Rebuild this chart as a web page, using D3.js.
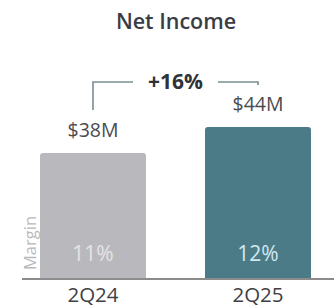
<!DOCTYPE html>
<html><head><meta charset="utf-8">
<script src="https://cdn.jsdelivr.net/npm/d3@7"></script>
<style>html,body{margin:0;padding:0;background:#fff}svg{display:block}</style>
</head><body>
<svg id="c" width="335" height="308"></svg>
<script>
const categories = ["2Q24", "2Q25"];
const values = [38, 44];
const valueLabels = ["$38M", "$44M"];
const margins = ["11%", "12%"];
const barColors = ["#b9b9bd", "#4b7b87"];
const marginColors = ["#e4e4e6", "#d3e8ee"];
const growthLabel = "+16%";
const title = "Net Income";

const svg = d3.select("#c");
const font = "'Open Sans', sans-serif";

const x = d3.scaleBand().domain(categories).range([40, 311]).paddingInner(0.3576).paddingOuter(0);
const y = d3.scaleLinear().domain([9, 44]).range([279, 127]);

svg.append("text").attr("x", 176).attr("y", 29).attr("text-anchor", "middle")
  .attr("font-family", font).attr("font-weight", 600).attr("font-size", 21.5)
  .attr("fill", "#3a3d45").text(title);

const bw = x.bandwidth();
const r = 3;
svg.selectAll("path.bar").data(categories).enter().append("path").attr("class","bar")
  .attr("fill", (d,i)=>barColors[i])
  .attr("d", (d,i)=>{
    const x0 = x(d), x1 = x0 + bw, yt = y(values[i]), yb = y(9);
    return `M${x0},${yb}V${yt+r}Q${x0},${yt} ${x0+r},${yt}H${x1-r}Q${x1},${yt} ${x1},${yt+r}V${yb}Z`;
  });

// axis baseline
const axis = svg.append("g").attr("transform", `translate(0,${y(9)})`)
  .call(d3.axisBottom(x).tickSize(0).tickPadding(8));
axis.select(".domain").remove();
axis.append("line").attr("x1", 22).attr("x2", 334).attr("y1", 0).attr("y2", 0)
  .attr("stroke", "#8c8c8c").attr("stroke-width", 2);
axis.selectAll(".tick text").attr("font-family", font).attr("font-size", 20.5)
  .attr("fill", "#3f3f45").attr("dy", "0.71em");

// value labels
svg.selectAll("text.val").data(categories).enter().append("text").attr("class","val")
  .attr("x", d=>x(d)+bw/2).attr("y", (d,i)=>y(values[i]) - 16)
  .attr("text-anchor","middle").attr("font-family", font).attr("font-size", 19.5)
  .attr("fill", "#4a4a4f").text((d,i)=>valueLabels[i]);

// margin labels
svg.selectAll("text.mg").data(categories).enter().append("text").attr("class","mg")
  .attr("x", d=>x(d)+bw/2).attr("y", 261)
  .attr("text-anchor","middle").attr("font-family", font).attr("font-size", 21)
  .attr("fill", (d,i)=>marginColors[i]).text((d,i)=>margins[i]);

svg.append("text").attr("transform", "translate(36,243) rotate(-90)")
  .attr("text-anchor","middle").attr("font-family", font).attr("font-size", 16.5)
  .attr("fill", "#b9b9bd").text("Margin");

// growth bracket
const cx0 = x(categories[0]) + bw/2, cx1 = x(categories[1]) + bw/2;
const by = 82;
const g = svg.append("g").attr("stroke", "#7b8c91").attr("stroke-width", 1.6).attr("fill","none");
g.append("path").attr("d", `M${cx0},${y(values[0]) - 43}V${by}H${cx0+40}`);
g.append("path").attr("d", `M${cx1-40},${by}H${cx1}V${by+3}`);
svg.append("text").attr("x", (cx0+cx1)/2).attr("y", 89).attr("text-anchor","middle")
  .attr("font-family", font).attr("font-weight", 700).attr("font-size", 21)
  .attr("fill", "#2f3238").text(growthLabel);
</script>
</body></html>
